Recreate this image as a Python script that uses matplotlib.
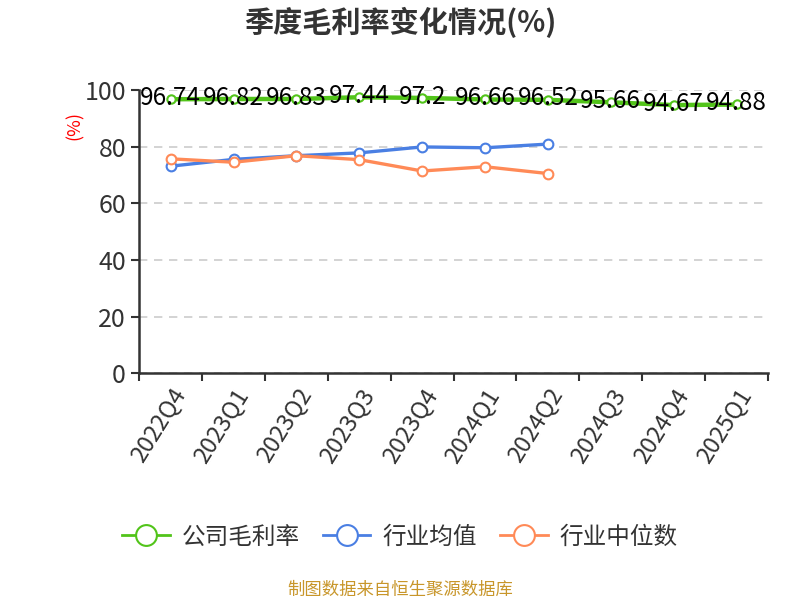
import matplotlib.pyplot as plt
from matplotlib.lines import Line2D

plt.rcParams['font.family'] = ['Noto Sans CJK SC', 'DejaVu Sans']

quarters = ["2022Q4", "2023Q1", "2023Q2", "2023Q3", "2023Q4",
            "2024Q1", "2024Q2", "2024Q3", "2024Q4", "2025Q1"]
company = [96.74, 96.82, 96.83, 97.44, 97.2, 96.66, 96.52, 95.66, 94.67, 94.88]
industry_avg = [73.1, 75.5, 76.8, 77.8, 79.9, 79.6, 80.9]
industry_median = [75.7, 74.5, 76.8, 75.4, 71.4, 72.9, 70.5]

green = "#52C41A"
blue = "#4A7FE3"
orange = "#FF8A57"

fig = plt.figure(figsize=(8, 6), dpi=100)
ax = fig.add_axes([0.174, 0.378, 0.786, 0.472])

x = list(range(len(quarters)))
ax.plot(x, company, color=green, lw=3.2, marker="o", ms=6,
        mfc="white", mec=green, mew=1.5, zorder=3)
ax.plot(x[:len(industry_avg)], industry_avg, color=blue, lw=2.4, marker="o", ms=7,
        mfc="white", mec=blue, mew=1.5, zorder=3)
ax.plot(x[:len(industry_median)], industry_median, color=orange, lw=2.4, marker="o", ms=7,
        mfc="white", mec=orange, mew=1.5, zorder=3)

for xi, v in zip(x, company):
    ax.annotate(f"{v:g}", (xi, v), xytext=(0, 1), textcoords="offset points",
                ha="center", va="center", fontsize=17.5, color="black", zorder=4)

ax.set_xlim(-0.5, len(quarters) - 0.5)
ax.set_ylim(0, 100)
ax.set_yticks([0, 20, 40, 60, 80, 100])
ax.yaxis.grid(True, ls=(0, (5, 4)), color="#cccccc", lw=1.2)
ax.set_axisbelow(True)

ax.set_xticks([i - 0.5 for i in range(len(quarters) + 1)])
ax.set_xticklabels([])
ax.set_xticks(x, minor=True)
ax.set_xticklabels(quarters, minor=True, rotation=58, ha="right",
                   rotation_mode="anchor", fontsize=17, color="#333333")
ax.tick_params(axis="x", which="minor", length=0, pad=8)
ax.tick_params(axis="x", which="major", length=6, width=1.5, color="#333333")
ax.tick_params(axis="y", length=6, width=1.5, color="#333333",
               labelsize=18, labelcolor="#333333")

for s in ["top", "right"]:
    ax.spines[s].set_visible(False)
for s in ["left", "bottom"]:
    ax.spines[s].set_color("#333333")
    ax.spines[s].set_linewidth(1.8)

fig.text(0.094, 0.79, "(%)", color="red", rotation=90, fontsize=13,
         ha="center", va="center")

fig.text(0.5, 0.962, "季度毛利率变化情况(%)", ha="center", va="center",
         fontsize=21, fontweight="bold", color="#333333")

handles = [Line2D([0], [0], color=c, lw=2, marker="o", ms=15, mfc="white", mec=c, mew=1.5)
           for c in [green, blue, orange]]
fig.legend(handles, ["公司毛利率", "行业均值", "行业中位数"], loc="center",
           bbox_to_anchor=(0.5, 0.105), ncol=3, frameon=False, fontsize=17,
           handlelength=2.0, columnspacing=1.0, handletextpad=0.5,
           labelcolor="#333333")

fig.text(0.5, 0.016, "制图数据来自恒生聚源数据库", ha="center", va="center",
         fontsize=12.5, color="#C8962A")

plt.savefig("out.png", dpi=100)
